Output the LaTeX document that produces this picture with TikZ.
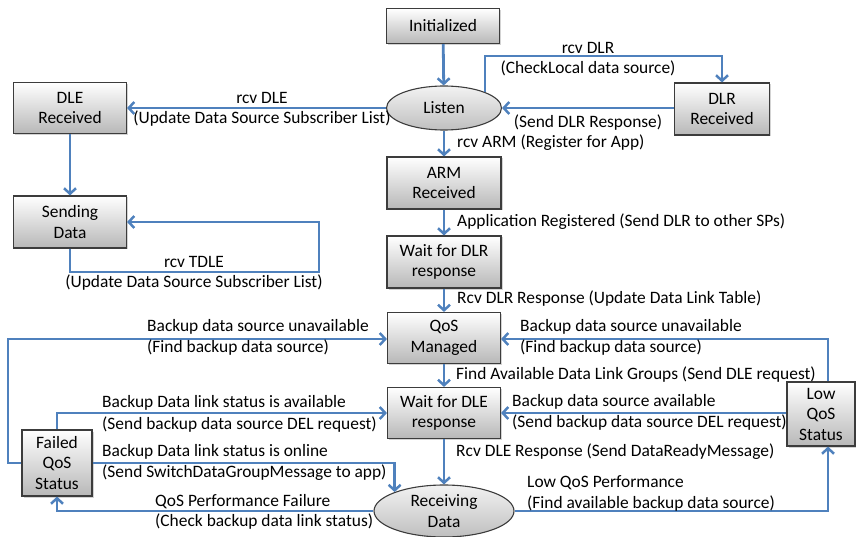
\documentclass[tikz,border=0pt]{standalone}
\usepackage{fontspec}
\setmainfont{Carlito}
\usetikzlibrary{shapes.geometric,arrows.meta,shadows,calc}

\definecolor{flow}{RGB}{79,129,189}
\definecolor{edgegray}{RGB}{60,60,60}

\tikzset{
  state/.style={rectangle, draw=edgegray, line width=1.1pt,
    top color=white, bottom color=black!28,
    drop shadow={shadow xshift=1.5pt, shadow yshift=-1.5pt, opacity=0.35},
    align=center, inner sep=1pt, font=\fontsize{17.4}{20.5}\selectfont},
  oval/.style={ellipse, draw=edgegray, line width=1.1pt,
    top color=black!5, bottom color=black!25,
    align=center, inner sep=0pt, font=\fontsize{17.4}{20.5}\selectfont},
  flowline/.style={draw=flow, line width=2.8pt,
    -{Straight Barb[length=5.5pt,width=12pt,line width=2.5pt]}},
  lbl/.style={inner sep=0pt, font=\fontsize{17.4}{20.5}\selectfont},
}

\begin{document}
\begin{tikzpicture}[x=1pt,y=-1pt]
\useasboundingbox (0,0) rectangle (856,537);

% states
\node[state, minimum width=113, minimum height=35] (init) at (443,26) {Initialized};
\node[oval, minimum width=115, minimum height=44] (listen) at (444,108) {Listen};
\node[state, minimum width=95, minimum height=52] (dlr) at (722,109) {DLR\\Received};
\node[state, minimum width=114, minimum height=52] (arm) at (444,183) {ARM\\Received};
\node[state, minimum width=114, minimum height=52] (wdlr) at (444,262) {Wait for DLR\\response};
\node[state, minimum width=113, minimum height=51] (qos) at (444,338) {QoS\\Managed};
\node[state, minimum width=113, minimum height=51] (wdle) at (444,413) {Wait for DLE\\response};
\node[oval, minimum width=140, minimum height=52] (recv) at (444,511) {Receiving\\Data};
\node[state, minimum width=68, minimum height=64] (lowq) at (821,414) {Low\\QoS\\Status};
\node[state, minimum width=113, minimum height=51] (dle) at (70,108) {DLE\\Received};
\node[state, minimum width=113, minimum height=52] (send) at (70,222) {Sending\\Data};
\node[state, minimum width=70, minimum height=66] (failed) at (57,463) {Failed\\QoS\\Status};

% bend points
\coordinate (dlrtop) at (722,56);
\coordinate (tdle) at (319,272);
\coordinate (lowtop) at (828,339);
\coordinate (lowbot) at (828,512);
\coordinate (farleft) at (8,463);

% main column
\draw[flowline] (init) -- (listen);
\draw[flowline] (listen) -- (arm);
\draw[flowline] (arm) -- (wdlr);
\draw[flowline] (wdlr) -- (qos);
\draw[flowline] (qos) -- (wdle);
\draw[flowline] (wdle) -- (recv);

% DLR branch
\draw[flowline] (listen.north east) |- (dlrtop) -- (dlr.north);
\draw[flowline] (dlr.west |- listen.east) -- (listen.east);

% DLE branch
\draw[flowline] (listen.west) -- (dle.east |- listen.west);
\draw[flowline] (dle) -- (send);
\draw[flowline] (send.south) |- (tdle) |- (send.east);

% low QoS loop
\draw[flowline] (recv.east) -| (lowq.south -| lowbot);
\draw[flowline] (lowq.north -| lowtop) |- (qos.east |- lowtop);
\draw[flowline] (lowq.west |- wdle.east) -- (wdle.east);

% failed QoS loop
\draw[flowline] (recv.west) -| (failed.south);
\draw[flowline] (failed.west) -- (farleft) |- (qos.west |- lowtop);
\draw[flowline] (failed.north) |- (wdle.west);
\draw[flowline] (failed.east) -| (recv.159);

% transition labels
\node[lbl] (t1) at (588,48) {rcv DLR};
\node[lbl] (t2) at (588,68) {(CheckLocal data source)};
\node[lbl] (t3) at (588,123) {(Send DLR Response)};
\node[lbl, anchor=west] (t4) at (457,143) {rcv ARM (Register for App)};
\node[lbl] (t5) at (262,98) {rcv DLE};
\node[lbl] (t6) at (262,119) {(Update Data Source Subscriber List)};
\node[lbl] (t7) at (194,262) {rcv TDLE};
\node[lbl] (t8) at (194,283) {(Update Data Source Subscriber List)};
\node[lbl, anchor=west] (t9) at (457,222) {Application Registered (Send DLR to other SPs)};
\node[lbl, anchor=west] (t10) at (457,299) {Rcv DLR Response (Update Data Link Table)};
\node[lbl, anchor=west] (t11) at (456,375) {Find Available Data Link Groups (Send DLE request)};
\node[lbl, anchor=west] (t12) at (456,452) {Rcv DLE Response (Send DataReadyMessage)};
\node[lbl, anchor=west] (t13) at (520,327) {Backup data source unavailable};
\node[lbl, anchor=west] (t14) at (520,348) {(Find backup data source)};
\node[lbl, anchor=west] (t15) at (512,402) {Backup data source available};
\node[lbl, anchor=west] (t16) at (512,423) {(Send backup data source DEL request)};
\node[lbl, anchor=west] (t17) at (527,483) {Low QoS Performance};
\node[lbl, anchor=west] (t18) at (527,504) {(Find available backup data source)};
\node[lbl, anchor=west] (t19) at (147,327) {Backup data source unavailable};
\node[lbl, anchor=west] (t20) at (147,348) {(Find backup data source)};
\node[lbl, anchor=west] (t21) at (102,403) {Backup Data link status is available};
\node[lbl, anchor=west] (t22) at (102,425) {(Send backup data source DEL request)};
\node[lbl, anchor=west] (t23) at (102,452) {Backup Data link status is online};
\node[lbl, anchor=west] (t24) at (102,473) {(Send SwitchDataGroupMessage to app)};
\node[lbl, anchor=west] (t25) at (155,502) {QoS Performance Failure};
\node[lbl, anchor=west] (t26) at (155,522) {(Check backup data link status)};
\end{tikzpicture}
\end{document}
